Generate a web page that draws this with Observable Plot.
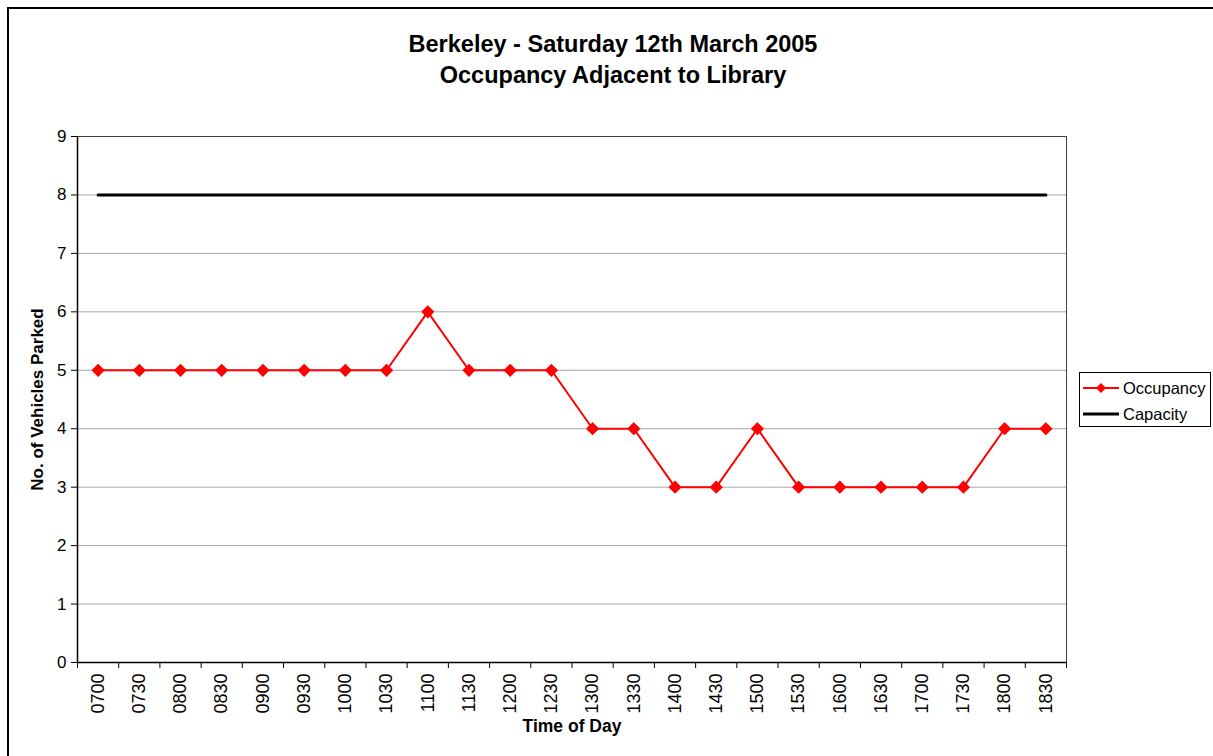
<!DOCTYPE html>
<html>
<head>
<meta charset="utf-8">
<script src="https://cdn.jsdelivr.net/npm/d3@7"></script>
<script src="https://cdn.jsdelivr.net/npm/@observablehq/plot@0.6"></script>
<style>
  html, body { margin: 0; padding: 0; background: #fff; overflow: hidden; }
  body { width: 1213px; height: 756px; position: relative; font-family: "Liberation Sans", Arial, sans-serif; }
  #border { position: absolute; left: 7px; top: 7px; width: 1300px; height: 900px; border: 2px solid #000; box-sizing: border-box; }
  #chart { position: absolute; left: 0; top: 0; }
  #title { position: absolute; left: 0; width: 1226px; top: 29px; text-align: center; font-weight: bold; font-size: 23.5px; line-height: 31px; color: #000; }
  #legend { position: absolute; left: 1079px; top: 372px; width: 132px; height: 55px; border: 1px solid #000; box-sizing: border-box; background: #fff; font-size: 16.5px; }
  .item { position: absolute; left: 3px; height: 20px; display: flex; align-items: center; }
  .item svg { margin-right: 4px; }
</style>
</head>
<body>
<div id="border"></div>
<div id="chart"></div>
<div id="title">Berkeley - Saturday 12th March 2005<br>Occupancy Adjacent to Library</div>
<div id="legend"></div>
<script>
const times = ["0700","0730","0800","0830","0900","0930","1000","1030","1100","1130","1200","1230",
               "1300","1330","1400","1430","1500","1530","1600","1630","1700","1730","1800","1830"];
const occupancy = [5,5,5,5,5,5,5,5,6,5,5,5,4,4,3,3,4,3,3,3,3,3,4,4];
const capacity = [8,8,8,8,8,8,8,8,8,8,8,8,8,8,8,8,8,8,8,8,8,8,8,8];
const yTicks = [0,1,2,3,4,5,6,7,8,9];
const seriesNames = ["Occupancy", "Capacity"];
const xTitle = "Time of Day";
const yTitle = "No. of Vehicles Parked";

const idx = times.map((_, i) => i);
const boundaries = times.map((_, i) => i - 0.5).concat([times.length - 0.5]);
const occData = times.map((t, i) => ({i, t, v: occupancy[i]}));
const capData = times.map((t, i) => ({i, t, v: capacity[i]}));

const chart = Plot.plot({
  width: 1213,
  height: 756,
  marginTop: 136,
  marginBottom: 94,
  marginLeft: 77,
  marginRight: 147,
  style: {fontFamily: "'Liberation Sans', Arial, sans-serif", fontSize: "16px", color: "#000", background: "transparent", overflow: "visible"},
  x: {domain: [-0.5, times.length - 0.5]},
  y: {domain: [0, 9]},
  marks: [
    Plot.gridY(yTicks.filter(d => d > 0 && d < 9), {stroke: "#a6a6a6", strokeOpacity: 1, strokeWidth: 1}),
    Plot.frame({stroke: "#404040", strokeWidth: 1}),
    Plot.axisY(yTicks, {tickSize: 6, tickPadding: 5, fontSize: 17, label: null, stroke: "#000", tickFormat: d => String(d)}),
    Plot.axisX(boundaries, {tickSize: 6, tickFormat: () => "", label: null, stroke: "#000"}),
    Plot.axisX(idx, {tickSize: 0, tickPadding: 11, tickRotate: -90, fontSize: 18, tickFormat: i => times[i], label: null}),
    Plot.ruleY([0], {stroke: "#000", strokeWidth: 1.5}),
    Plot.ruleX([-0.5], {stroke: "#000", strokeWidth: 1.5}),
    Plot.line(capData, {x: "i", y: "v", stroke: "#000", strokeWidth: 3}),
    Plot.line(occData, {x: "i", y: "v", stroke: "#ff0000", strokeWidth: 2}),
    Plot.dot(occData, {x: "i", y: "v", symbol: "diamond2", fill: "#ff0000", stroke: "#ff0000", r: 5}),
    Plot.text([yTitle], {frameAnchor: "left", dx: -40, rotate: -90, textAnchor: "middle", fontWeight: "bold", fontSize: 17}),
    Plot.text([xTitle], {frameAnchor: "bottom", dy: 69, fontWeight: "bold", fontSize: 17.5})
  ]
});
document.getElementById("chart").appendChild(chart);

// Legend
const legend = document.getElementById("legend");
const styles = [{color: "#ff0000", width: 2, marker: true}, {color: "#000", width: 3, marker: false}];
seriesNames.forEach((name, k) => {
  const it = document.createElement("div");
  it.className = "item";
  it.style.top = (k === 0 ? 5 : 31) + "px";
  const s = styles[k];
  it.innerHTML = `<svg width="36" height="14"><line x1="0" x2="36" y1="7" y2="7" stroke="${s.color}" stroke-width="${s.width}"/>` +
    (s.marker ? `<path d="M18,2L23,7L18,12L13,7Z" fill="${s.color}"/>` : "") + `</svg><span>${name}</span>`;
  legend.appendChild(it);
});
</script>
</body>
</html>
